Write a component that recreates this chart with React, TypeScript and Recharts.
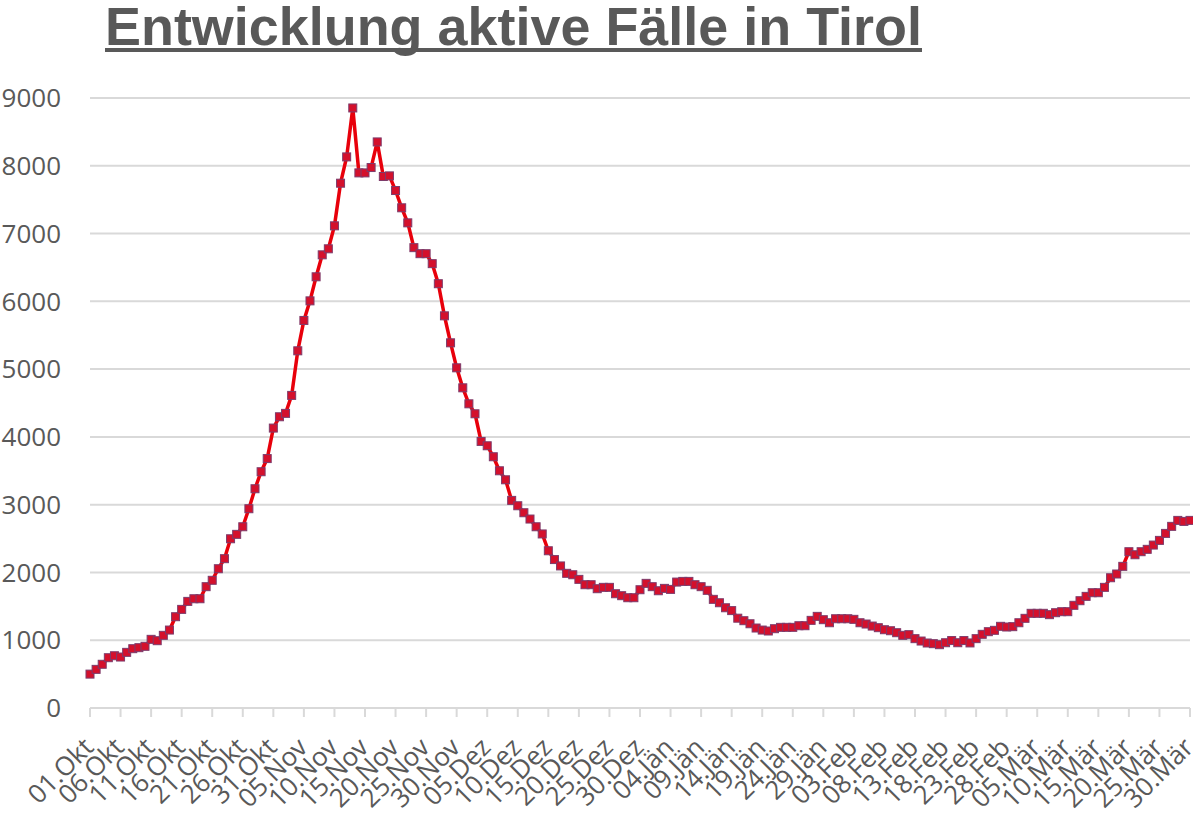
import React from 'react';
import { CartesianGrid, Line, LineChart, XAxis, YAxis } from 'recharts';

// ----------------------
// DATA – active cases per day, Oct 1st to Mar 30th
// ----------------------
const MONTHS = ['Okt', 'Nov', 'Dez', 'Jän', 'Feb', 'Mär'];

const okt = [500, 570, 645, 742, 771, 752, 821, 875, 890, 910, 1013, 993, 1072, 1150, 1347, 1455, 1573, 1612, 1612, 1790, 1884, 2055, 2203, 2497, 2562, 2674, 2940, 3235, 3486, 3680, 4130];
const nov = [4297, 4347, 4612, 5270, 5718, 6007, 6362, 6686, 6775, 7114, 7743, 8131, 8853, 7895, 7895, 7974, 8352, 7842, 7851, 7635, 7380, 7158, 6792, 6703, 6703, 6556, 6260, 5786, 5388, 5019];
const dez = [4724, 4488, 4341, 3933, 3869, 3707, 3500, 3367, 3063, 2984, 2881, 2788, 2674, 2568, 2320, 2190, 2096, 1987, 1966, 1898, 1819, 1819, 1760, 1780, 1780, 1686, 1657, 1627, 1627, 1745, 1839];
const jaen = [1790, 1730, 1765, 1750, 1858, 1868, 1868, 1819, 1790, 1736, 1603, 1553, 1479, 1437, 1325, 1288, 1243, 1180, 1150, 1136, 1170, 1190, 1190, 1190, 1214, 1214, 1293, 1352, 1303, 1258, 1317];
const feb = [1317, 1317, 1308, 1258, 1239, 1209, 1185, 1155, 1140, 1111, 1072, 1082, 1023, 988, 959, 949, 934, 963, 995, 963, 995, 960, 1023, 1087, 1126, 1146, 1205, 1195];
const maer = [1200, 1258, 1323, 1397, 1397, 1397, 1377, 1406, 1421, 1421, 1515, 1583, 1647, 1701, 1701, 1780, 1922, 1977, 2090, 2306, 2261, 2306, 2341, 2404, 2473, 2576, 2680, 2768, 2753, 2768];

const Y_TICKS = [0, 1000, 2000, 3000, 4000, 5000, 6000, 7000, 8000, 9000];

const data = [okt, nov, dez, jaen, feb, maer].flatMap((values, m) =>
  values.map((value, d) => ({
    date: `${String(d + 1).padStart(2, '0')}.${MONTHS[m]}`,
    value,
  }))
);

const GREY = '#595959';
const GRID = '#d9d9d9';
const FONT = '"Open Sans", sans-serif';

// ----------------------
// CUSTOM TICK / DOT
// ----------------------
const XTick = ({ x, payload }: any) => (
  <g transform={`translate(${x + 5},${749})`}>
    <text textAnchor="end" transform="rotate(-45)" fill={GREY} fontSize={26} fontFamily={FONT}>
      {payload.value}
    </text>
  </g>
);

const SquareDot = ({ cx, cy, index }: any) => (
  <rect key={index} x={cx - 4} y={cy - 4} width={8} height={8} fill="#d4102c" stroke="#7d3b6b" strokeWidth={1} />
);

export default function App() {
  return (
    <div style={{ position: 'relative', width: 1193, height: 820, background: '#fff', overflow: 'hidden' }}>
      <style>{'body{margin:0}'}</style>
      <svg width={1193} height={80} style={{ position: 'absolute', left: 0, top: 0 }}>
        <text
          x={105}
          y={45}
          textLength={817}
          lengthAdjust="spacingAndGlyphs"
          fill={GREY}
          fontSize={54}
          fontWeight="bold"
          fontFamily='"Liberation Sans", Arial, sans-serif'
        >
          Entwicklung aktive Fälle in Tirol
        </text>
        <rect x={105} y={48} width={817} height={4} fill={GREY} />
      </svg>
      <LineChart width={1193} height={820} data={data} margin={{ top: 98, right: 3, left: 0, bottom: 0 }}>
        <CartesianGrid vertical={false} stroke={GRID} strokeWidth={2} />
        <XAxis
          dataKey="date"
          interval={4}
          height={112}
          axisLine={{ stroke: GRID, strokeWidth: 2 }}
          tickLine={{ stroke: GRID, strokeWidth: 2 }}
          tickSize={9}
          tick={<XTick />}
        />
        <YAxis
          domain={[0, 9000]}
          ticks={Y_TICKS}
          width={90}
          axisLine={false}
          tickLine={false}
          tickSize={0}
          tickMargin={29}
          tick={{ fill: GREY, fontSize: 26, fontFamily: FONT }}
        />
        <Line
          type="linear"
          dataKey="value"
          stroke="#e8000b"
          strokeWidth={3.5}
          dot={<SquareDot />}
          activeDot={false}
          isAnimationActive={false}
        />
      </LineChart>
    </div>
  );
}
